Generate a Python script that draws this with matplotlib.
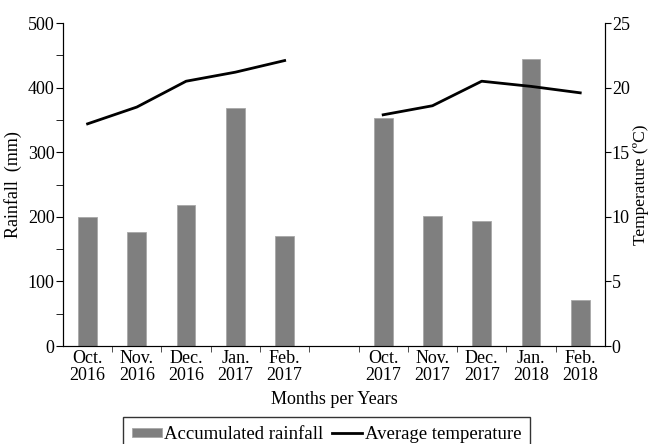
import numpy as np
import matplotlib.pyplot as plt
from matplotlib.ticker import MultipleLocator, FixedLocator

plt.rcParams['font.family'] = ['Liberation Serif', 'DejaVu Serif']

# months of the two growing seasons (empty slot separates the seasons)
months = ["Oct.\n2016", "Nov.\n2016", "Dec.\n2016", "Jan.\n2017", "Feb.\n2017", "",
          "Oct.\n2017", "Nov.\n2017", "Dec.\n2017", "Jan.\n2018", "Feb.\n2018"]
rainfall = [200, 177, 218, 369, 170, np.nan, 353, 202, 193, 444, 72]          # mm
temperature = [17.2, 18.5, 20.5, 21.2, 22.1, np.nan, 17.9, 18.6, 20.5, 20.1, 19.6]  # deg C

x = np.arange(len(months))

fig = plt.figure(figsize=(6.49, 4.44), dpi=100)
ax = fig.add_axes([0.097, 0.2207, 0.835, 0.7273])
ax2 = ax.twinx()

bars = ax.bar(x, rainfall, width=0.38, color='#7f7f7f', edgecolor='#a8a8a8',
              linewidth=0.6, label='Accumulated rainfall')
line, = ax2.plot(x, temperature, color='black', lw=2, label='Average temperature')

ax.set_xlim(-0.5, len(months) - 0.5)
ax.set_ylim(0, 500)
ax2.set_ylim(0, 25)

ax.yaxis.set_major_locator(MultipleLocator(100))
ax.yaxis.set_minor_locator(MultipleLocator(50))
ax2.yaxis.set_major_locator(MultipleLocator(5))

# month labels under bars, tick marks on the boundaries
ax.set_xticks(x)
ax.set_xticklabels(months, fontsize=13, linespacing=1.0)
ax.xaxis.set_minor_locator(FixedLocator(np.arange(0.5, len(months) - 0.5, 1)))
ax.tick_params(axis='x', which='major', length=0, pad=3)
ax.tick_params(axis='x', which='minor', length=4, direction='out', color='#333333')

ax.tick_params(axis='y', which='both', length=5, direction='out', labelsize=13, pad=1)
ax2.tick_params(axis='y', length=4, direction='out', labelsize=13, pad=1)

ax.set_ylabel("Rainfall  (mm)", fontsize=13, labelpad=4)
ax2.set_ylabel("Temperature (ºC)", fontsize=12.5, labelpad=2)
ax.set_xlabel("Months per Years", fontsize=13, labelpad=5)

for a in (ax, ax2):
    a.spines['top'].set_visible(False)
ax.spines['bottom'].set_color('#555555')

leg = fig.legend([bars, line], ['Accumulated rainfall', 'Average temperature'],
                 loc='lower center', bbox_to_anchor=(0.503, -0.025), ncol=2,
                 fontsize=13.5, frameon=True, fancybox=False, edgecolor='black',
                 handlelength=1.6, handleheight=0.35, handletextpad=0.15,
                 columnspacing=0.45, borderpad=0.45, borderaxespad=0.2)
leg.get_frame().set_linewidth(1.0)

fig.savefig('out.png', dpi=100)
